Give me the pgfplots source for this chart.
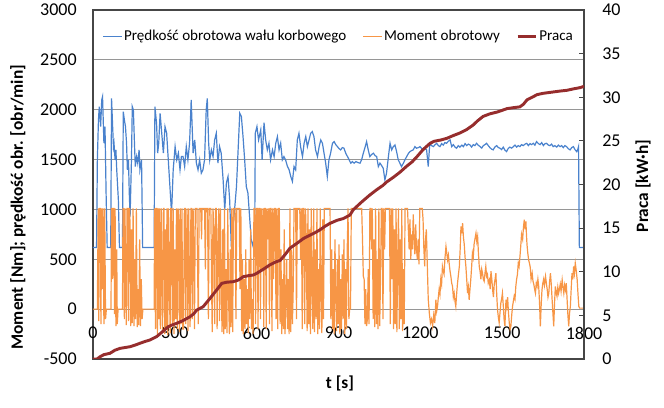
\documentclass[border=0pt]{standalone}
\usepackage{fontspec}
\setmainfont{Carlito}
\usepackage{pgfplots}
\usepackage{pgfplotstable}
\pgfplotsset{compat=1.18}
\definecolor{spdblue}{RGB}{74,130,205}
\definecolor{trqorange}{RGB}{247,150,70}
\definecolor{workred}{RGB}{150,45,45}
\definecolor{gridgray}{RGB}{150,150,150}
\definecolor{framegray}{RGB}{70,70,70}

\pgfplotstableread[row sep=\\]{
s v\\ 0 618\\ 13 618\\ 16 1497\\ 20 1898\\ 23 2031\\ 28 1831\\ 32 2098\\ 35 2131\\ 40 1664\\ 44 1831\\ 48 1163\\ 52 618\\ 65 618\\ 68 2114\\ 72 1831\\ 75 1630\\ 77 1664\\ 81 1497\\ 84 1597\\ 87 1397\\ 93 1096\\ 97 618\\ 108 618\\ 111 1981\\ 115 1898\\ 119 1831\\ 123 1664\\ 126 1397\\ 130 1497\\ 133 1163\\ 136 929\\ 141 1497\\ 144 2031\\ 148 1998\\ 152 1664\\ 155 1430\\ 160 1530\\ 164 1464\\ 169 1597\\ 172 1397\\ 178 1497\\ 182 618\\ 224 618\\ 227 2031\\ 233 1864\\ 237 1564\\ 241 1664\\ 246 1964\\ 252 1764\\ 258 1564\\ 264 1831\\ 270 1764\\ 276 1497\\ 282 1229\\ 288 962\\ 294 1397\\ 301 1630\\ 307 1497\\ 313 1564\\ 319 1397\\ 324 1530\\ 330 1530\\ 336 1430\\ 342 1630\\ 348 1497\\ 354 1664\\ 360 2098\\ 367 1564\\ 373 1697\\ 379 1464\\ 385 1397\\ 391 1497\\ 397 1363\\ 403 1397\\ 409 1497\\ 415 1998\\ 419 2114\\ 424 1664\\ 428 1497\\ 434 1597\\ 440 1530\\ 446 1697\\ 452 1764\\ 458 1464\\ 464 1630\\ 470 1564\\ 477 1297\\ 483 996\\ 489 1263\\ 495 1330\\ 501 1096\\ 507 628\\ 511 761\\ 519 996\\ 526 1229\\ 532 1597\\ 538 1964\\ 544 1931\\ 550 1730\\ 556 1497\\ 562 1229\\ 568 1163\\ 574 929\\ 580 695\\ 587 628\\ 593 829\\ 595 1764\\ 601 1831\\ 607 1697\\ 615 1798\\ 620 1497\\ 627 1870\\ 633 1697\\ 639 1597\\ 645 1664\\ 651 1497\\ 658 1597\\ 664 1530\\ 670 1664\\ 676 1730\\ 682 1597\\ 688 1664\\ 694 1497\\ 700 1530\\ 706 1497\\ 713 1430\\ 719 1397\\ 725 1330\\ 731 1280\\ 737 1430\\ 743 1397\\ 749 1697\\ 755 1764\\ 761 1630\\ 768 1530\\ 774 1664\\ 780 1730\\ 786 1630\\ 792 1697\\ 798 1764\\ 804 1781\\ 810 1730\\ 816 1597\\ 823 1530\\ 829 1630\\ 835 1697\\ 841 1664\\ 847 1564\\ 853 1464\\ 859 1330\\ 865 1497\\ 871 1564\\ 878 1664\\ 884 1680\\ 890 1650\\ 896 1630\\ 902 1610\\ 908 1597\\ 914 1620\\ 920 1614\\ 927 1560\\ 933 1530\\ 939 1497\\ 945 1464\\ 951 1480\\ 957 1464\\ 964 1480\\ 971 1470\\ 979 1464\\ 985 1500\\ 991 1564\\ 997 1620\\ 1003 1680\\ 1009 1597\\ 1015 1530\\ 1021 1550\\ 1028 1564\\ 1034 1540\\ 1040 1530\\ 1046 1430\\ 1052 1464\\ 1058 1440\\ 1064 1413\\ 1070 1297\\ 1076 1363\\ 1083 1530\\ 1089 1664\\ 1095 1597\\ 1101 1630\\ 1107 1647\\ 1113 1580\\ 1119 1497\\ 1125 1464\\ 1131 1430\\ 1138 1464\\ 1144 1500\\ 1150 1530\\ 1156 1560\\ 1162 1580\\ 1168 1590\\ 1174 1597\\ 1180 1630\\ 1186 1614\\ 1193 1620\\ 1199 1630\\ 1205 1610\\ 1211 1597\\ 1217 1610\\ 1223 1597\\ 1229 1430\\ 1233 1597\\ 1235 1663\\ 1241 1640\\ 1248 1630\\ 1254 1650\\ 1260 1663\\ 1266 1640\\ 1272 1630\\ 1278 1660\\ 1284 1645\\ 1290 1670\\ 1296 1663\\ 1303 1685\\ 1309 1697\\ 1315 1630\\ 1321 1650\\ 1327 1625\\ 1333 1614\\ 1339 1640\\ 1345 1625\\ 1352 1645\\ 1358 1630\\ 1364 1660\\ 1370 1640\\ 1376 1655\\ 1382 1647\\ 1388 1625\\ 1394 1650\\ 1400 1640\\ 1406 1663\\ 1412 1645\\ 1419 1630\\ 1425 1615\\ 1431 1640\\ 1437 1650\\ 1443 1663\\ 1449 1640\\ 1455 1620\\ 1461 1605\\ 1467 1597\\ 1473 1625\\ 1480 1640\\ 1486 1620\\ 1492 1614\\ 1498 1600\\ 1504 1625\\ 1510 1595\\ 1516 1580\\ 1522 1610\\ 1528 1625\\ 1535 1615\\ 1541 1630\\ 1547 1645\\ 1553 1625\\ 1559 1640\\ 1565 1630\\ 1571 1650\\ 1577 1640\\ 1584 1655\\ 1590 1663\\ 1596 1640\\ 1602 1660\\ 1608 1650\\ 1614 1663\\ 1620 1645\\ 1626 1680\\ 1633 1660\\ 1639 1650\\ 1645 1670\\ 1651 1640\\ 1657 1660\\ 1663 1663\\ 1669 1645\\ 1675 1640\\ 1681 1655\\ 1687 1630\\ 1693 1640\\ 1700 1625\\ 1706 1645\\ 1712 1630\\ 1718 1640\\ 1724 1620\\ 1730 1640\\ 1736 1630\\ 1742 1610\\ 1749 1597\\ 1755 1620\\ 1761 1630\\ 1767 1600\\ 1773 1580\\ 1777 1600\\ 1780 1630\\ 1783 618\\ 1800 618\\
}\spdtab

\pgfplotstableread[row sep=\\]{
s v\\ 0 0\\ 16 0\\ 19 1010\\ 21 -120\\ 24 1010\\ 27 1010\\ 29 -150\\ 32 1010\\ 35 200\\ 37 1010\\ 40 -150\\ 43 1010\\ 46 -100\\ 49 0\\ 66 0\\ 68 1010\\ 70 1010\\ 72 300\\ 74 1010\\ 77 1010\\ 79 -50\\ 81 1010\\ 84 -170\\ 87 600\\ 89 -150\\ 92 0\\ 108 0\\ 110 1010\\ 112 1010\\ 115 -100\\ 117 1010\\ 120 400\\ 122 -160\\ 125 1010\\ 127 1010\\ 130 -120\\ 132 1010\\ 135 1010\\ 138 -170\\ 141 800\\ 144 -140\\ 147 1010\\ 150 -170\\ 153 500\\ 156 -100\\ 159 1010\\ 162 -180\\ 165 200\\ 168 -160\\ 171 700\\ 174 -170\\ 177 300\\ 180 -100\\ 183 0\\ 224 0\\ 226 1010\\ 229 -200\\ 231 1010\\ 234 1010\\ 236 -250\\ 239 1010\\ 242 -100\\ 244 1010\\ 247 -200\\ 250 1010\\ 252 400\\ 255 -220\\ 258 1010\\ 260 1010\\ 263 -250\\ 266 800\\ 269 -200\\ 271 1010\\ 274 -260\\ 277 1010\\ 280 200\\ 283 -240\\ 285 1010\\ 288 1010\\ 291 -150\\ 294 1010\\ 297 -250\\ 300 600\\ 303 -100\\ 306 1010\\ 309 -200\\ 312 1010\\ 314 900\\ 317 -230\\ 320 1010\\ 323 -150\\ 326 1010\\ 329 -200\\
332 -200\\ 335 1010\\ 338 1010\\ 340 -150\\ 343 600\\ 345 1010\\ 348 -220\\ 351 1010\\ 353 200\\ 356 -180\\ 359 1010\\ 361 1010\\ 364 -100\\ 367 1010\\ 370 500\\ 372 -200\\ 375 1010\\ 378 1010\\ 381 1010\\ 384 300\\ 386 -150\\ 389 1010\\ 392 1010\\ 395 1010\\ 398 700\\ 400 1010\\ 403 1010\\ 406 1010\\ 409 1010\\ 412 400\\ 414 1010\\ 417 1010\\ 420 1010\\ 423 -100\\ 426 1010\\ 429 1010\\ 432 1010\\ 435 200\\ 437 -230\\ 440 1010\\ 443 800\\ 446 -150\\ 449 1010\\ 452 1010\\ 455 -200\\ 458 600\\ 461 1010\\ 464 -120\\ 467 1010\\ 470 300\\
473 -230\\ 476 800\\ 479 -250\\ 482 1010\\ 485 -200\\ 488 400\\ 491 -240\\ 494 1010\\ 497 100\\ 500 -250\\ 503 600\\ 506 -180\\ 509 1010\\ 512 -230\\ 515 1010\\ 518 1010\\ 521 1010\\ 524 -100\\ 527 1010\\ 530 1010\\ 533 1010\\ 536 1010\\ 539 200\\ 542 1010\\ 545 -220\\ 548 500\\ 551 -250\\ 554 300\\ 557 -200\\
560 600\\ 563 -150\\ 566 200\\ 569 -240\\ 572 500\\ 575 -100\\ 578 800\\ 581 -200\\ 584 100\\ 587 -250\\ 590 1010\\ 593 1010\\ 596 -150\\ 599 1010\\ 602 1010\\ 605 -200\\ 608 1010\\ 611 1010\\ 614 -100\\ 617 1010\\ 620 400\\ 623 1010\\ 626 -180\\ 629 1010\\ 632 1010\\ 635 -200\\ 638 1010\\ 641 700\\ 644 1010\\ 647 -150\\
650 1010\\ 653 1010\\ 656 -220\\ 659 1010\\ 662 300\\ 665 1010\\ 668 1010\\ 671 -100\\ 674 1010\\ 677 -200\\ 680 1010\\ 683 1010\\ 686 -150\\ 689 600\\ 692 -250\\ 695 300\\ 698 -200\\ 701 800\\ 704 -250\\ 707 100\\ 710 500\\ 713 -200\\ 716 300\\ 719 -250\\ 722 1010\\ 725 -230\\ 728 600\\ 731 -150\\ 734 200\\ 737 1010\\
740 1010\\ 743 1010\\ 746 -100\\ 749 1010\\ 752 1010\\ 755 1010\\ 758 1010\\ 761 500\\ 764 1010\\ 767 -200\\ 770 1010\\ 773 1010\\ 776 -150\\ 779 1010\\ 782 700\\ 785 -220\\ 788 1010\\ 791 -150\\ 794 800\\ 797 -250\\ 800 1010\\ 803 200\\ 806 -200\\ 809 1010\\ 812 -230\\ 815 600\\ 818 -100\\ 821 1010\\ 824 -250\\ 827 400\\ 830 -200\\ 833 1010\\ 836 100\\ 839 -240\\ 842 900\\ 845 -100\\
848 1010\\ 851 1010\\ 854 1010\\ 857 1010\\ 860 1010\\ 863 1010\\ 866 1010\\ 869 1010\\
872 -100\\ 875 600\\ 878 -200\\ 881 400\\ 884 -250\\ 887 700\\ 890 100\\ 893 -220\\ 896 500\\ 899 -150\\ 902 650\\ 905 -250\\ 908 300\\ 911 -200\\ 914 550\\ 917 -100\\ 920 700\\ 923 -250\\ 926 400\\ 929 -200\\ 932 600\\
935 1010\\ 938 -100\\ 941 0\\ 944 0\\ 947 1010\\ 950 1010\\ 955 1010\\ 960 1010\\ 965 1010\\ 970 1010\\ 975 1010\\ 980 1010\\
985 1010\\ 988 700\\ 991 330\\ 994 300\\ 997 -150\\ 1000 200\\ 1003 -170\\ 1006 -100\\ 1009 400\\ 1012 -150\\ 1015 1010\\ 1018 1010\\ 1021 600\\ 1024 1010\\ 1027 -100\\ 1030 700\\ 1033 -180\\ 1036 1010\\ 1039 -150\\ 1042 500\\ 1045 -200\\ 1048 1010\\ 1051 -170\\ 1054 300\\ 1057 1010\\ 1060 1010\\ 1063 -100\\ 1066 1010\\ 1069 600\\ 1072 1010\\ 1075 1010\\ 1078 1010\\ 1081 1010\\ 1084 1010\\ 1087 1010\\ 1090 -150\\ 1093 1010\\ 1096 300\\ 1099 1010\\ 1102 -200\\ 1105 800\\ 1108 -150\\ 1111 1010\\ 1114 -230\\ 1117 500\\ 1120 1010\\ 1123 -200\\ 1126 700\\ 1129 -100\\ 1132 1010\\ 1135 -220\\ 1138 400\\ 1141 -150\\ 1144 1010\\ 1147 1010\\ 1150 1010\\ 1153 1010\\ 1156 800\\ 1159 600\\ 1162 900\\ 1165 500\\ 1168 750\\ 1171 600\\ 1174 950\\ 1177 700\\ 1180 550\\ 1183 850\\ 1186 600\\ 1189 500\\ 1192 700\\ 1195 450\\ 1198 1010\\ 1201 1010\\ 1204 1010\\ 1207 1010\\ 1210 900\\ 1213 600\\ 1216 430\\ 1219 700\\ 1222 800\\ 1225 500\\ 1229 100\\ 1233 -40\\ 1237 -140\\ 1241 -100\\ 1245 -170\\ 1249 -60\\ 1253 -140\\
1257 94\\ 1260 -20\\ 1263 27\\ 1266 120\\ 1269 200\\ 1272 150\\ 1275 300\\ 1278 250\\ 1281 428\\ 1284 380\\ 1287 350\\ 1290 500\\ 1294 628\\ 1297 560\\ 1300 494\\ 1303 540\\ 1306 450\\ 1309 380\\ 1312 328\\ 1315 260\\ 1318 230\\ 1321 120\\ 1324 160\\ 1327 80\\ 1330 27\\ 1333 150\\ 1336 250\\ 1339 330\\ 1343 428\\ 1346 600\\ 1349 829\\ 1352 760\\ 1355 862\\ 1358 720\\ 1361 650\\ 1364 520\\ 1367 428\\ 1370 300\\ 1373 160\\ 1376 220\\ 1379 94\\ 1382 200\\ 1385 300\\ 1388 420\\ 1391 561\\ 1394 520\\ 1397 650\\ 1400 700\\ 1404 762\\ 1407 680\\ 1410 728\\ 1413 560\\ 1416 428\\ 1419 380\\ 1422 300\\ 1425 400\\ 1428 361\\ 1431 300\\ 1434 280\\ 1437 360\\ 1440 428\\ 1443 330\\ 1446 350\\ 1449 260\\ 1453 294\\ 1456 200\\ 1459 380\\ 1462 300\\ 1465 194\\ 1468 120\\ 1471 250\\ 1474 300\\ 1477 361\\ 1480 150\\ 1483 -7\\ 1486 -80\\ 1489 -137\\ 1492 -40\\ 1495 60\\ 1498 100\\ 1501 160\\ 1504 40\\ 1507 -100\\ 1510 -170\\ 1514 94\\ 1517 30\\ 1520 120\\ 1523 -30\\ 1526 -137\\ 1529 -200\\ 1532 -170\\ 1535 -60\\ 1538 27\\ 1541 80\\ 1544 130\\ 1547 100\\ 1550 228\\ 1553 300\\ 1556 350\\ 1559 460\\ 1562 428\\ 1565 520\\ 1568 628\\ 1571 750\\ 1575 700\\ 1578 820\\ 1581 896\\ 1584 800\\ 1587 880\\ 1589 750\\ 1591 650\\ 1594 560\\ 1597 495\\ 1600 460\\ 1603 420\\ 1606 300\\ 1610 361\\ 1613 280\\ 1616 250\\ 1619 200\\ 1622 160\\ 1625 260\\ 1628 228\\ 1631 300\\ 1634 228\\ 1637 60\\ 1640 -173\\ 1643 40\\ 1646 194\\ 1649 260\\ 1652 300\\ 1655 240\\ 1659 328\\ 1662 260\\ 1665 200\\ 1668 120\\ 1671 160\\ 1674 280\\ 1677 361\\ 1680 250\\ 1683 100\\ 1686 -40\\ 1689 -173\\ 1692 60\\ 1695 228\\ 1698 170\\ 1701 130\\ 1704 220\\ 1707 160\\ 1710 200\\ 1713 250\\ 1716 180\\ 1720 294\\ 1723 220\\ 1726 160\\ 1729 240\\ 1732 194\\ 1735 260\\ 1738 100\\ 1741 -60\\ 1744 -173\\ 1747 -40\\ 1750 27\\ 1753 200\\ 1756 361\\ 1759 300\\ 1762 428\\ 1765 360\\ 1768 461\\ 1771 400\\ 1775 294\\ 1778 150\\ 1781 27\\ 1784 10\\ 1800 10\\
}\trqtab

\pgfplotstableread[row sep=\\]{
s w\\ 0 0\\ 15 0\\ 26 0.26\\ 40 0.5\\ 62 0.65\\ 80 1.0\\ 99 1.22\\ 115 1.3\\ 136 1.41\\ 155 1.6\\ 172 1.8\\ 190 2.0\\ 209 2.18\\ 233 2.56\\ 250 3.0\\ 276 3.7\\ 290 3.9\\ 307 4.09\\ 330 4.4\\ 356 4.85\\ 370 5.2\\ 380 5.6\\ 404 6.0\\ 429 6.95\\ 453 7.9\\ 472 8.67\\ 490 8.8\\ 514 8.86\\ 533 9.05\\ 551 9.43\\ 570 9.55\\ 588 9.63\\ 600 9.82\\ 625 10.3\\ 649 10.8\\ 668 11.1\\ 686 11.3\\ 705 12.0\\ 722 12.7\\ 745 13.2\\ 771 13.8\\ 796 14.2\\ 815 14.5\\ 832 14.8\\ 850 15.2\\ 869 15.55\\ 895 15.9\\ 918 16.1\\ 942 16.5\\ 954 17.1\\ 985 18.0\\ 1015 18.8\\ 1040 19.4\\ 1063 19.9\\ 1077 20.3\\ 1100 20.8\\ 1125 21.4\\ 1150 22.1\\ 1170 22.6\\ 1188 23.2\\ 1210 24.0\\ 1235 24.7\\ 1250 24.95\\ 1275 25.1\\ 1298 25.3\\ 1320 25.6\\ 1345 25.9\\ 1370 26.3\\ 1393 26.8\\ 1410 27.3\\ 1430 27.8\\ 1455 28.1\\ 1481 28.3\\ 1500 28.5\\ 1518 28.7\\ 1540 28.8\\ 1565 28.9\\ 1578 29.2\\ 1591 29.7\\ 1610 30.0\\ 1628 30.3\\ 1650 30.45\\ 1686 30.6\\ 1710 30.7\\ 1738 30.8\\ 1760 30.95\\ 1785 31.1\\ 1800 31.25\\
}\worktab

\pgfplotsset{
  common/.style={
    at={(0pt,0pt)}, anchor=south west,
    scale only axis, width=368.25pt, height=261.75pt,
    xmin=0, xmax=1800,
    /pgf/number format/assume math mode=true,
    /pgf/number format/1000 sep={},
    tick label style={font=\fontsize{13.5}{16}\selectfont},
    label style={font=\bfseries\fontsize{13}{15}\selectfont},
  }
}

\begin{document}
\begin{tikzpicture}
\useasboundingbox (-69.75pt,-36pt) rectangle (428.25pt,269.25pt);
\begin{axis}[common,
  ymin=-500, ymax=3000,
  xtick={0,300,...,1800}, ytick={-500,0,...,3000},
  ymajorgrids, major grid style={draw=gridgray, line width=0.7pt},
  axis line style={draw=framegray, line width=1pt},
  tick style={draw=none},
  xticklabel style={anchor=north, inner sep=0pt, yshift=24pt},
  yticklabel style={anchor=east, inner sep=0pt, xshift=-12pt},
  xlabel={t [s]},
  xlabel style={at={(axis description cs:0.503,-0.069)}, anchor=center},
  ylabel={Moment [Nm]; prędkość obr. [obr/min]},
  ylabel style={at={(axis description cs:-0.1527,0.435)}, anchor=center, rotate=0},
]
\addplot[color=spdblue, line width=0.9pt] table[x=s, y=v] {\spdtab};
\addplot[color=trqorange, line width=0.9pt] table[x=s, y=v] {\trqtab};
\end{axis}
\begin{axis}[common,
  ymin=0, ymax=40, ytick={0,5,...,40},
  axis x line=none, axis y line*=right,
  axis line style={draw=framegray, line width=1pt},
  ytick style={draw=framegray, line width=0.7pt},
  major tick length=4pt,
  yticklabel style={anchor=west, inner sep=0pt, xshift=13.5pt},
  ylabel={Praca [kW·h]},
  ylabel style={at={(axis description cs:1.1202,0.496)}, anchor=center, rotate=0},
  legend style={at={(0.5,0.925)}, anchor=center, draw=none, fill=none,
    legend columns=-1, font=\fontsize{11.3}{13}\selectfont,
    nodes={inner sep=1.2pt},
    /tikz/every even column/.append style={column sep=11pt}},
  legend image code/.code={\draw[#1] (0pt,0pt) -- (14pt,0pt);},
]
\addlegendimage{color=spdblue, line width=0.9pt}
\addlegendentry{Prędkość obrotowa wału korbowego}
\addlegendimage{color=trqorange, line width=0.9pt}
\addlegendentry{Moment obrotowy}
\addplot[color=workred, line width=2.2pt] table[x=s, y=w] {\worktab};
\addlegendentry{Praca}
\end{axis}
\end{tikzpicture}
\end{document}
